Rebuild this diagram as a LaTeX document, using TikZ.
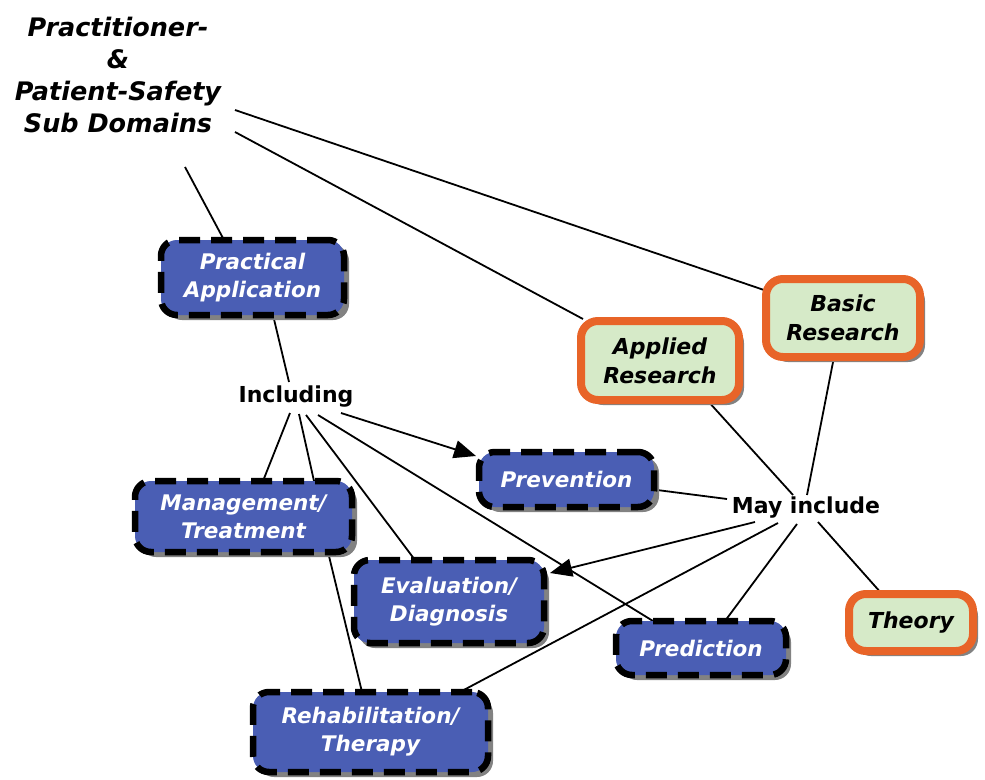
\documentclass[tikz,border=0pt]{standalone}
\usepackage{fontspec}
\setmainfont{DejaVu Sans}
\usetikzlibrary{shadows,arrows.meta,calc,backgrounds}
\definecolor{boxblue}{RGB}{74,94,180}
\definecolor{boxgreen}{RGB}{214,234,200}
\definecolor{boxorange}{RGB}{232,100,40}
\definecolor{shadowgray}{RGB}{130,130,130}
\tikzset{
  bluebox/.style={rounded corners=16pt, fill=boxblue, draw=black, line width=6.5pt,
    dash pattern=on 21pt off 11pt, text=white, align=center, inner sep=0pt,
    font=\bfseries\itshape\fontsize{21.5}{28}\selectfont,
    general shadow={fill=shadowgray, shadow xshift=5pt, shadow yshift=-5pt}},
  greenbox/.style={rounded corners=17pt, fill=boxgreen, draw=boxorange, line width=8pt,
    text=black, align=center, inner sep=0pt,
    font=\bfseries\itshape\fontsize{22}{29}\selectfont,
    general shadow={fill=shadowgray, shadow xshift=5pt, shadow yshift=-5pt}},
  lbl/.style={font=\bfseries\fontsize{22}{26}\selectfont, inner sep=1pt},
  conn/.style={line width=1.8pt, black},
  arr/.style={conn, -{Triangle[length=22pt,width=18pt]}},
}
\begin{document}
\begin{tikzpicture}[x=1pt,y=-1pt]
\useasboundingbox (0,0) rectangle (985,779);

\node[font=\bfseries\itshape\fontsize{25.5}{31.7}\selectfont, align=center, inner sep=0pt] (title) at (118,75)
  {Practitioner-\\\&\\Patient-Safety\\Sub Domains};

\node[bluebox, minimum width=183pt, minimum height=75pt] (prac) at (252.5,277.5) {Practical\\Application};
\node[bluebox, minimum width=217pt, minimum height=71pt] (mgmt) at (243.5,516.5) {Management/\\Treatment};
\node[bluebox, minimum width=175pt, minimum height=55pt] (prev) at (566.5,479.5) {Prevention};
\node[bluebox, minimum width=190pt, minimum height=83pt] (eval) at (449,601.5) {Evaluation/\\Diagnosis};
\node[bluebox, minimum width=170pt, minimum height=54pt] (pred) at (701,648) {Prediction};
\node[bluebox, minimum width=235pt, minimum height=80pt] (rehab) at (370.5,732) {Rehabilitation/\\Therapy};

\node[greenbox, minimum width=158pt, minimum height=79pt] (applied) at (660,360.5) {Applied\\Research};
\node[greenbox, minimum width=154pt, minimum height=78pt] (basic) at (843,318) {Basic\\Research};
\node[greenbox, minimum width=124pt, minimum height=57pt] (theory) at (911,622.5) {Theory};

\node[lbl] (inc) at (296,397) {Including};
\node[lbl] (may) at (806,508) {May include};

\begin{scope}[on background layer]
\fill[white] (0,0) rectangle (985,779);
\draw[conn] ($(title)+(67,92)$) -- ($(prac)+(-28.5,-37.5)$);
\draw[conn] ($(title)+(117,57)$) -- ($(applied)+(-77,-41.5)$);
\draw[conn] ($(title)+(117,35)$) -- ($(basic)+(-79,-28)$);
\draw[conn] ($(prac)+(20.5,37.5)$) -- ($(inc)+(-7,-15)$);
\draw[conn] ($(inc)+(-6,16)$) -- ($(mgmt)+(19.5,-35.5)$);
\draw[conn] ($(inc)+(3,17)$) -- ($(mgmt)+(70.5,-35.5)$);
\draw[conn] ($(inc)+(10,18)$) -- ($(eval)+(-34,-41.5)$);
\draw[conn] ($(inc)+(22,18)$) -- ($(pred)+(-48,-27)$);
\draw[conn] ($(mgmt)+(84.5,35.5)$) -- ($(rehab)+(-8.5,-40)$);
\draw[conn] ($(prev)+(90.5,10.5)$) -- ($(may)+(-79,-9)$);
\draw[conn] ($(may)+(-28,15)$) -- ($(rehab)+(89.5,-40)$);
\draw[conn] ($(may)+(-9,16)$) -- ($(pred)+(24,-27)$);
\draw[conn] ($(may)+(12,14)$) -- ($(theory)+(-29,-28.5)$);
\draw[conn] ($(applied)+(47,39.5)$) -- ($(may)+(-13,-13)$);
\draw[conn] ($(basic)+(-9,39)$) -- ($(may)+(1,-13)$);
\end{scope}
\draw[arr] ($(inc)+(45,16)$) -- ($(prev)+(-90.5,-23.5)$);
\draw[arr] ($(may)+(-51,14)$) -- ($(eval)+(101,-28.5)$);
\end{tikzpicture}
\end{document}
